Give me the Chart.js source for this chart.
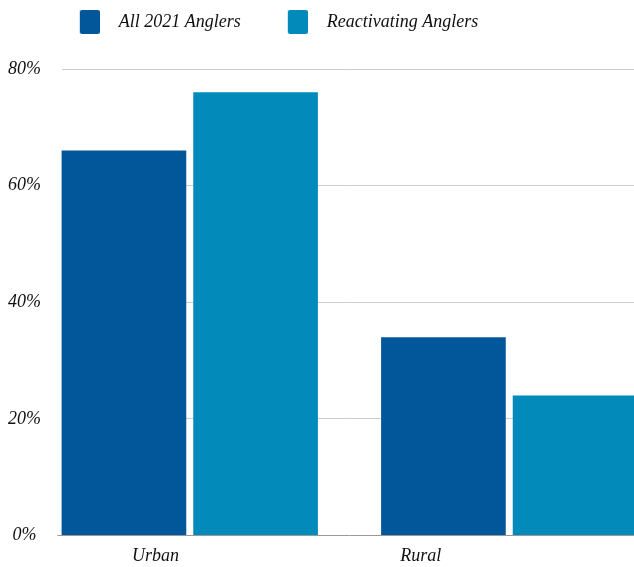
<!DOCTYPE html>
<html><head><meta charset="utf-8">
<script src="https://cdn.jsdelivr.net/npm/chart.js@4/dist/chart.umd.min.js"></script>
<style>
html,body{margin:0;padding:0;background:#fff;width:634px;height:567px;overflow:hidden;position:relative}
#c{position:absolute;left:-148px;top:0}
</style>
</head><body><canvas id="c" width="817" height="567"></canvas>
<script>
const categories = ["Urban", "Rural"];
const seriesNames = ["All 2021 Anglers", "Reactivating Anglers"];
const allAnglers = [66, 34];
const reactivating = [76, 24];
const yTicks = [0, 20, 40, 60, 80];

const COLORS = ['#02579A', '#028BBA'];
const FONT = "'Liberation Serif', 'DejaVu Serif', serif";
const TEXT = '#111';

function swatch(color) {
  const c = document.createElement('canvas');
  c.width = 47; c.height = 24;
  const g = c.getContext('2d');
  g.fillStyle = color;
  g.beginPath();
  if (g.roundRect) g.roundRect(27, 0, 20, 24, 2); else g.rect(27, 0, 20, 24);
  g.fill();
  return c;
}

new Chart(document.getElementById('c'), {
  type: 'bar',
  data: {
    labels: categories,
    datasets: [
      {label: seriesNames[0], data: allAnglers, backgroundColor: COLORS[0], pointStyle: swatch(COLORS[0])},
      {label: seriesNames[1], data: reactivating, backgroundColor: COLORS[1], pointStyle: swatch(COLORS[1])}
    ]
  },
  options: {
    responsive: false,
    animation: false,
    devicePixelRatio: 1,
    layout: {padding: {left: 0, right: 0, top: 3, bottom: -10}},
    datasets: {bar: {categoryPercentage: 0.824, barPercentage: 0.947}},
    plugins: {
      tooltip: {enabled: false},
      legend: {
        position: 'top',
        labels: {
          color: TEXT,
          font: {family: FONT, size: 18, style: 'italic', lineHeight: 1},
          usePointStyle: true, pointStyleWidth: 67, padding: 10
        }
      },
      title: {display: true, text: '', weight: 500, font: {size: 1, lineHeight: 1}, padding: {top: 0, bottom: 27}}
    },
    scales: {
      x: {display: false, offset: true},
      xl: {
        type: 'linear', position: 'bottom', offset: false,
        min: -0.4736, max: 1.9358,
        afterBuildTicks: (s) => { s.ticks = categories.map((c, i) => ({value: i})); },
        grid: {display: false, drawTicks: false, offset: false},
        border: {display: false},
        ticks: {color: TEXT, font: {family: FONT, size: 18, style: 'italic'}, padding: 10,
                maxRotation: 0, autoSkip: false,
                callback: (v) => categories[v]}
      },
      y: {
        min: 0, max: 80,
        afterBuildTicks: (s) => { s.ticks = yTicks.map(v => ({value: v})); },
        afterFit: (s) => { s.width = 178; },
        grid: {color: (c) => (c.tick && c.tick.value === 0) ? '#999999' : '#cccccc', lineWidth: 1, drawTicks: false},
        border: {display: false},
        ticks: {
          color: TEXT, font: {family: FONT, size: 18, style: 'italic'},
          mirror: true, crossAlign: 'center', padding: -22,
          showLabelBackdrop: true, backdropColor: '#ffffff',
          backdropPadding: {left: 4, right: 21, top: 2, bottom: 2},
          callback: v => v + '%'
        }
      }
    }
  }
});
</script></body></html>
